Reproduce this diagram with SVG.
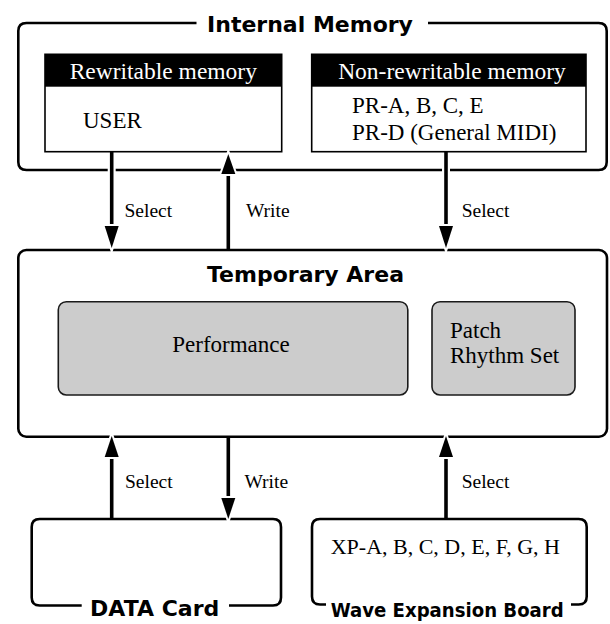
<svg xmlns="http://www.w3.org/2000/svg" width="610" height="624" viewBox="0 0 610 624">
<style>
.frame{fill:none;stroke:#000;stroke-width:2.6;stroke-linejoin:round}
.inner{fill:#fff;stroke:#000;stroke-width:1.6}
.hdr{fill:#000}
.grey{fill:#cccccc;stroke:#1a1a1a;stroke-width:1.6}
.title{font-family:"DejaVu Sans",sans-serif;font-weight:bold;font-size:22px;fill:#000}
.serif{font-family:"Liberation Serif","Times New Roman",serif;font-size:23px;fill:#000}
.hdrtxt{font-family:"Liberation Serif","Times New Roman",serif;font-size:23.5px;fill:#fff}
.lbl{font-family:"Liberation Serif","Times New Roman",serif;font-size:19.5px;fill:#000}
.shaft{stroke:#000;stroke-width:3.6;fill:none}
.halo{stroke:#fff;stroke-width:8;fill:none}
.head{fill:#000;stroke:#fff;stroke-width:4;paint-order:stroke fill}
</style>
<rect width="610" height="624" fill="#fff"/>

<g id="internal-memory">
  <path class="frame" d="M196.5,23 L26.5,23 Q18.3,23 18.3,31 L18.3,162 Q18.3,170 26.5,170 L598.7,170 Q606.7,170 606.7,162 L606.7,31 Q606.7,23 598.7,23 L428,23"/>
  <text class="title" x="310" y="31.7" text-anchor="middle">Internal Memory</text>
</g>

<g id="rewritable-memory">
  <rect class="inner" x="45" y="54.3" width="236.7" height="97.4"/>
  <rect class="hdr" x="45" y="54.3" width="236.7" height="32.4"/>
  <text class="hdrtxt" x="163.3" y="78.5" text-anchor="middle">Rewritable memory</text>
  <text class="serif" x="83" y="127.7">USER</text>
</g>

<g id="non-rewritable-memory">
  <rect class="inner" x="311.7" y="54.3" width="274.3" height="97.4"/>
  <rect class="hdr" x="311.7" y="54.3" width="274.3" height="32.4"/>
  <text class="hdrtxt" x="452" y="78.5" text-anchor="middle">Non-rewritable memory</text>
  <text class="serif" x="352" y="113.3">PR-A, B, C, E</text>
  <text class="serif" x="352" y="140">PR-D (General MIDI)</text>
</g>

<g id="temporary-area">
  <rect class="frame" x="18.3" y="250" width="588.7" height="186.7" rx="8"/>
  <text class="title" x="305.5" y="281.7" text-anchor="middle">Temporary Area</text>
</g>

<g id="performance">
  <rect class="grey" x="58.3" y="301.7" width="349.5" height="93.3" rx="8"/>
  <text class="serif" x="231" y="351.7" text-anchor="middle">Performance</text>
</g>

<g id="patch-rhythm-set">
  <rect class="grey" x="432" y="301.7" width="143" height="93.3" rx="8"/>
  <text class="serif" x="450" y="338.3">Patch</text>
  <text class="serif" x="450" y="363.3">Rhythm Set</text>
</g>

<g id="data-card">
  <path class="frame" d="M81.7,605.5 L39.7,605.5 Q31.7,605.5 31.7,597.5 L31.7,527 Q31.7,519 39.7,519 L273,519 Q281,519 281,527 L281,597.5 Q281,605.5 273,605.5 L229,605.5"/>
  <text class="title" x="154.7" y="615.7" text-anchor="middle">DATA Card</text>
</g>

<g id="wave-expansion-board">
  <path class="frame" d="M326,604.5 L320,604.5 Q312,604.5 312,596.5 L312,527 Q312,519 320,519 L578.7,519 Q586.7,519 586.7,527 L586.7,596.5 Q586.7,604.5 578.7,604.5 L571,604.5"/>
  <text class="serif" x="330.7" y="554" style="font-size:22px">XP-A, B, C, D, E, F, G, H</text>
  <text class="title" x="330.7" y="616.5" textLength="233" lengthAdjust="spacingAndGlyphs" style="font-size:20px">Wave Expansion Board</text>
</g>

<g id="connectors">
  <line class="halo" x1="111.7" y1="162" x2="111.7" y2="178"/>
  <line class="halo" x1="446" y1="162" x2="446" y2="178"/>
  <line class="halo" x1="228.3" y1="165" x2="228.3" y2="180"/>

  <line class="shaft" x1="111.7" y1="151.7" x2="111.7" y2="232"/>
  <polygon class="head" points="104.7,226 118.7,226 111.7,248"/>
  <text class="lbl" x="124.5" y="216.7">Select</text>

  <line class="shaft" x1="228.3" y1="250" x2="228.3" y2="170"/>
  <polygon class="head" points="221.3,174 235.3,174 228.3,154"/>
  <text class="lbl" x="246" y="216.7">Write</text>

  <line class="shaft" x1="446" y1="151.7" x2="446" y2="232"/>
  <polygon class="head" points="439,226 453,226 446,248"/>
  <text class="lbl" x="461.7" y="216.7">Select</text>

  <line class="shaft" x1="111.7" y1="519" x2="111.7" y2="452"/>
  <polygon class="head" points="104.7,457 118.7,457 111.7,436"/>
  <text class="lbl" x="125" y="488">Select</text>

  <line class="shaft" x1="228.3" y1="436.7" x2="228.3" y2="503"/>
  <polygon class="head" points="221.3,498 235.3,498 228.3,519"/>
  <text class="lbl" x="244.5" y="488">Write</text>

  <line class="shaft" x1="446" y1="519" x2="446" y2="452"/>
  <polygon class="head" points="439,457 453,457 446,436"/>
  <text class="lbl" x="461.7" y="488">Select</text>
</g>
</svg>
